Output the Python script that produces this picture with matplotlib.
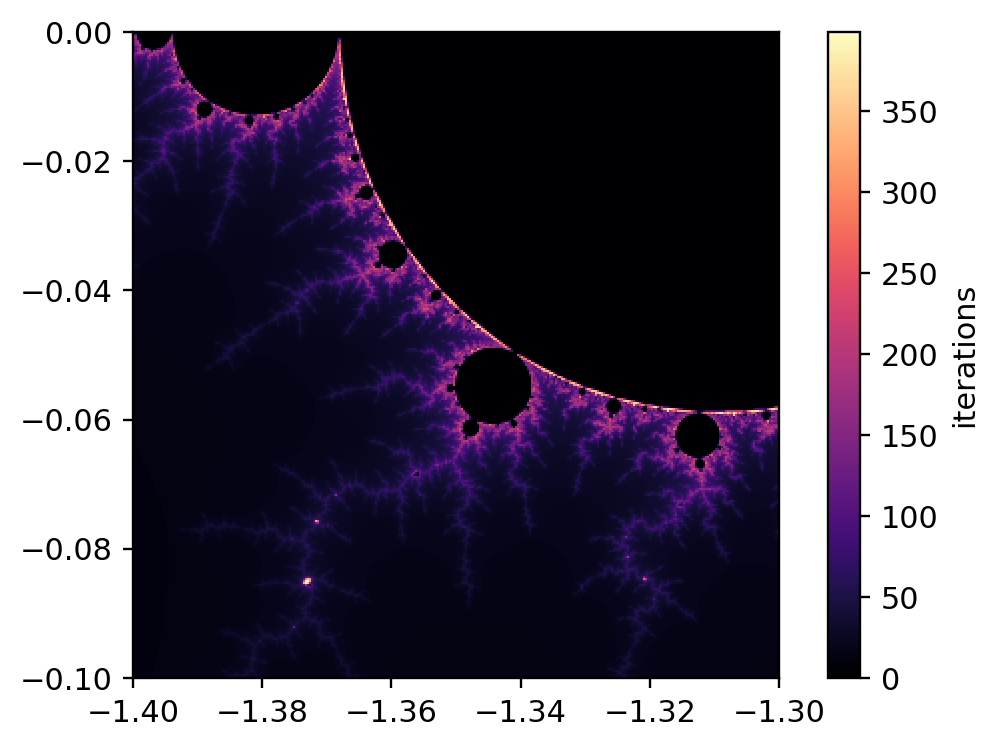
import numpy as np
import matplotlib
matplotlib.use('Agg')
import matplotlib.pyplot as plt

x_range = [-1.40, -1.30]
y_range = [-0.10, 0.00]
max_iter = 400
cells = 323
oversample = 4
blur_width = 6
max_period = 64
extra_rounds = 50
tol = 1e-4

x_ticks = [-1.40, -1.38, -1.36, -1.34, -1.32, -1.30]
y_ticks = [-0.10, -0.08, -0.06, -0.04, -0.02, 0.00]
cbar_ticks = [0, 50, 100, 150, 200, 250, 300, 350]


# Escape time per cell. Points on a cycle with length divisible by 4 count as 0,
# as do the few that only escape after the cap. Other cycles stay at the cap
def escape_time(xs, ys, limit):
    c = (xs[None, :] + 1j * ys[:, None]).ravel()
    counts = np.full(c.shape, limit - 1, dtype=int)
    idx = np.arange(c.size)
    z = np.zeros_like(c)
    for i in range(1, limit):
        z = z ** 2 + c
        out = np.abs(z) > 2
        counts[idx[out]] = i
        keep = ~out
        z, c, idx = z[keep], c[keep], idx[keep]
    for r in range(extra_rounds):
        start = z.copy()
        for p in range(1, max_period + 1):
            z = z ** 2 + c
            hit = np.abs(z - start) < tol
            out = np.abs(z) > 2
            if p % 4 == 0:
                counts[idx[hit]] = 0
            counts[idx[out]] = 0
            keep = ~(hit | out)
            z, c, idx, start = z[keep], c[keep], idx[keep], start[keep]
    return counts.reshape(ys.size, xs.size)


# Hann smoothing along both axes, then keep every oversample-th cell
def smooth_down(data, width, step):
    kernel = np.hanning(width + 2)[1:-1]
    kernel = kernel / kernel.sum()
    pad = width
    data = np.pad(data.astype(float), pad, mode='edge')
    data = np.apply_along_axis(lambda r: np.convolve(r, kernel, mode='same'), 0, data)
    data = np.apply_along_axis(lambda r: np.convolve(r, kernel, mode='same'), 1, data)
    return data[pad:-pad, pad:-pad][step // 2::step, step // 2::step]


n = cells * oversample
xs = np.linspace(x_range[0], x_range[1], n)
ys = np.linspace(y_range[0], y_range[1], n)
counts = escape_time(xs, ys, max_iter)
counts = smooth_down(counts, blur_width, oversample)

dpi = 212
plt.rcParams['font.size'] = 10.3
fig = plt.figure(figsize=(1000 / dpi, 749 / dpi), dpi=dpi)
ax = fig.add_axes([133 / 1000, 71 / 749, 646 / 1000, 646 / 749])
cax = fig.add_axes([828 / 1000, 71 / 749, 32 / 1000, 646 / 749])

im = ax.imshow(counts, origin='lower', cmap='magma', interpolation='nearest',
               extent=[x_range[0], x_range[1], y_range[0], y_range[1]],
               aspect='auto', vmin=0, vmax=max_iter - 1)
ax.set_xticks(x_ticks)
ax.set_yticks(y_ticks)
ax.set_xticklabels([f'{t:.2f}'.replace('-', '\u2212') for t in x_ticks])
ax.set_yticklabels([f'{t:.2f}'.replace('-', '\u2212') for t in y_ticks])

cbar = fig.colorbar(im, cax=cax)
cbar.set_ticks(cbar_ticks)
cbar.set_label('iterations')

fig.savefig('out.png', dpi=dpi)
